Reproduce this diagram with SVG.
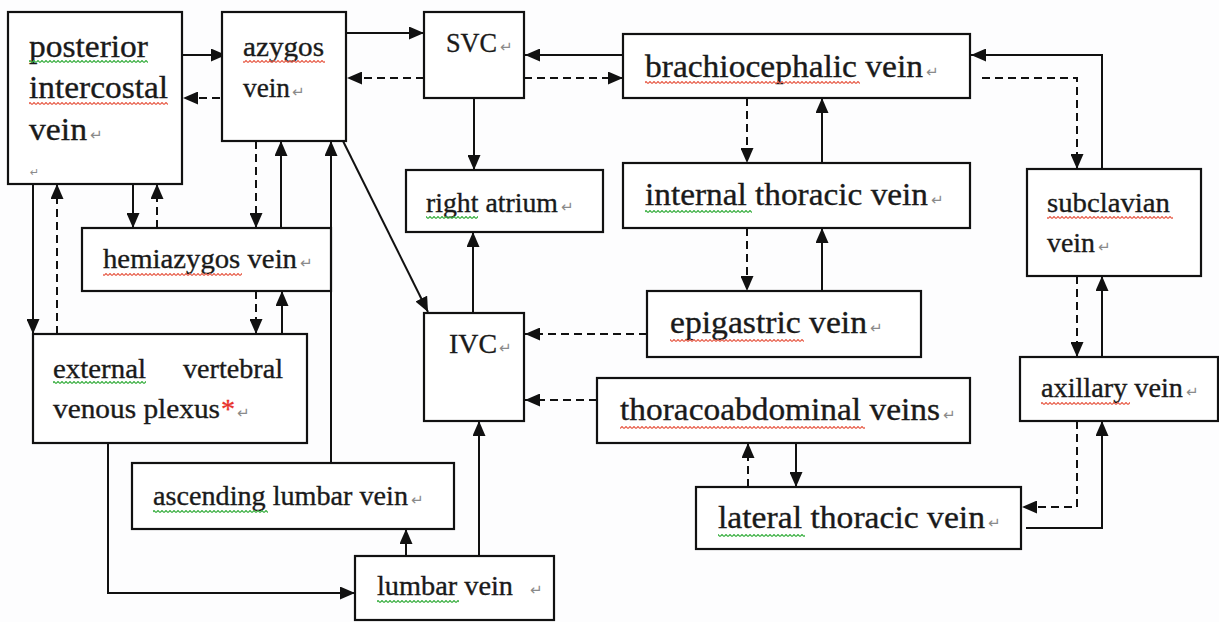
<svg xmlns="http://www.w3.org/2000/svg" width="1219" height="622" viewBox="0 0 1219 622">
<style>
.box{fill:#fff;stroke:#111;stroke-width:2.2}
.t{font-family:"Liberation Serif","Times New Roman",serif;fill:#1a1a1a;stroke:#1a1a1a;stroke-width:0.35}
.s{font-size:28px}
.b{font-size:32px}
.pm{font-family:"DejaVu Sans",sans-serif;font-size:15px;fill:#8a8a8a}
.c{fill:none;stroke:#111;stroke-width:2;marker-end:url(#ah)}
.d{stroke-dasharray:8 5}
.wr{fill:url(#wr)}
.wg{fill:url(#wg)}
</style>
<defs>
<marker id="ah" markerUnits="userSpaceOnUse" markerWidth="16" markerHeight="13" refX="15" refY="6.5" orient="auto"><path d="M0,0 L15,6.5 L0,13 z" fill="#111"/></marker>
<pattern id="wr" patternUnits="userSpaceOnUse" width="4" height="3"><polyline points="0,2.5 2,0.5 4,2.5" fill="none" stroke="#e8604c" stroke-width="1.2"/></pattern>
<pattern id="wg" patternUnits="userSpaceOnUse" width="4" height="3"><polyline points="0,2.5 2,0.5 4,2.5" fill="none" stroke="#3cb043" stroke-width="1.2"/></pattern>
</defs>
<rect x="0" y="0" width="1219" height="622" fill="#fdfdfe"/>

<g id="connectors">
<path class="c" d="M182,55 H226"/>
<path class="c d" d="M220,98 H183"/>
<path class="c" d="M346,33 H424"/>
<path class="c d" d="M424,78 H347"/>
<path class="c d" d="M524,78 H623"/>
<path class="c" d="M623,55 H525"/>
<path class="c" d="M474,98 V170"/>
<path class="c" d="M473,313 V232"/>
<path class="c" d="M343,141 L428,312"/>
<path class="c d" d="M747,98 V163"/>
<path class="c" d="M822,163 V98"/>
<path class="c d" d="M747,228 V291"/>
<path class="c" d="M822,291 V228"/>
<path class="c d" d="M647,334 H525"/>
<path class="c d" d="M597,400 H525"/>
<path class="c d" d="M748,487 V443"/>
<path class="c" d="M796,443 V487"/>
<path class="c" d="M1102,169 V55 H971"/>
<path class="c d" d="M982,78 H1077 V169"/>
<path class="c d" d="M1077,276 V357"/>
<path class="c" d="M1102,357 V276"/>
<path class="c d" d="M1077,421 V507 H1022"/>
<path class="c" d="M1026,528 H1102 V421"/>
<path class="c" d="M33,184 V334"/>
<path class="c d" d="M57,334 V184"/>
<path class="c" d="M133,184 V228"/>
<path class="c d" d="M157,228 V184"/>
<path class="c d" d="M256,141 V228"/>
<path class="c" d="M281,228 V141"/>
<path class="c d" d="M256,291 V334"/>
<path class="c" d="M282,334 V291"/>
<path class="c" d="M331,463 V141"/>
<path class="c" d="M108,443 V593 H355"/>
<path class="c" d="M406,556 V529"/>
<path class="c" d="M479,556 V421"/>
</g>

<g id="posterior-intercostal-vein">
<rect class="box" x="8" y="12" width="174" height="172"/>
<text class="t b" x="29" y="57" textLength="119" lengthAdjust="spacingAndGlyphs">posterior</text>
<text class="t b" x="29" y="98" textLength="139" lengthAdjust="spacingAndGlyphs">intercostal</text>
<text class="t b" x="29" y="140" textLength="58" lengthAdjust="spacingAndGlyphs">vein</text>
<text class="pm" x="90" y="140">↵</text>
<text class="pm" x="30" y="176" style="font-size:11px">↵</text>
<rect class="wg" x="29" y="60" width="119" height="3"/>
<rect class="wr" x="29" y="102" width="139" height="3"/>
</g>

<g id="azygos-vein">
<rect class="box" x="222" y="12" width="124" height="129"/>
<text class="t s" x="243" y="56" textLength="81" lengthAdjust="spacingAndGlyphs">azygos</text>
<text class="t s" x="243" y="97" textLength="47" lengthAdjust="spacingAndGlyphs">vein</text>
<text class="pm" x="292" y="97">↵</text>
<rect class="wr" x="243" y="60" width="82" height="3"/>
</g>

<g id="svc">
<rect class="box" x="424" y="12" width="100" height="86"/>
<text class="t s" x="446" y="52" textLength="51" lengthAdjust="spacingAndGlyphs">SVC</text>
<text class="pm" x="500" y="52">↵</text>
</g>

<g id="brachiocephalic-vein">
<rect class="box" x="623" y="34" width="347" height="64"/>
<text class="t b" x="645" y="77" textLength="278" lengthAdjust="spacingAndGlyphs">brachiocephalic vein</text>
<text class="pm" x="926" y="77">↵</text>
<rect class="wr" x="645" y="81" width="215" height="3"/>
</g>

<g id="right-atrium">
<rect class="box" x="406" y="170" width="197" height="62"/>
<text class="t s" x="426" y="212" textLength="132" lengthAdjust="spacingAndGlyphs">right atrium</text>
<text class="pm" x="561" y="212">↵</text>
<rect class="wg" x="426" y="216" width="52" height="3"/>
</g>

<g id="internal-thoracic-vein">
<rect class="box" x="623" y="163" width="347" height="65"/>
<text class="t b" x="645" y="205" textLength="283" lengthAdjust="spacingAndGlyphs">internal thoracic vein</text>
<text class="pm" x="931" y="205">↵</text>
<rect class="wg" x="645" y="210" width="107" height="3"/>
</g>

<g id="subclavian-vein">
<rect class="box" x="1027" y="169" width="174" height="107"/>
<text class="t s" x="1047" y="212" textLength="123" lengthAdjust="spacingAndGlyphs">subclavian</text>
<text class="t s" x="1047" y="252" textLength="48" lengthAdjust="spacingAndGlyphs">vein</text>
<text class="pm" x="1098" y="252">↵</text>
<rect class="wr" x="1047" y="216" width="126" height="3"/>
</g>

<g id="hemiazygos-vein">
<rect class="box" x="82" y="228" width="249" height="63"/>
<text class="t s" x="103" y="268" textLength="194" lengthAdjust="spacingAndGlyphs">hemiazygos vein</text>
<text class="pm" x="300" y="268">↵</text>
<rect class="wr" x="103" y="273" width="139" height="3"/>
</g>

<g id="external-vertebral-venous-plexus">
<rect class="box" x="33" y="334" width="274" height="109"/>
<text class="t s" x="53" y="378" textLength="93" lengthAdjust="spacingAndGlyphs">external</text>
<text class="t s" x="183" y="378" textLength="100" lengthAdjust="spacingAndGlyphs">vertebral</text>
<text class="t s" x="53" y="418" textLength="167" lengthAdjust="spacingAndGlyphs">venous plexus</text>
<text class="t s" x="221" y="418" style="fill:#e8302a;stroke:#e8302a">*</text>
<text class="pm" x="237" y="418">↵</text>
<rect class="wg" x="53" y="381" width="93" height="3"/>
</g>

<g id="ivc">
<rect class="box" x="424" y="313" width="100" height="108"/>
<text class="t s" x="449" y="353" textLength="48" lengthAdjust="spacingAndGlyphs">IVC</text>
<text class="pm" x="499" y="353">↵</text>
</g>

<g id="epigastric-vein">
<rect class="box" x="647" y="291" width="274" height="66"/>
<text class="t b" x="670" y="333" textLength="197" lengthAdjust="spacingAndGlyphs">epigastric vein</text>
<text class="pm" x="870" y="333">↵</text>
<rect class="wr" x="670" y="339" width="134" height="3"/>
</g>

<g id="thoracoabdominal-veins">
<rect class="box" x="597" y="378" width="373" height="65"/>
<text class="t b" x="620" y="420" textLength="320" lengthAdjust="spacingAndGlyphs">thoracoabdominal veins</text>
<text class="pm" x="943" y="420">↵</text>
<rect class="wr" x="620" y="426" width="245" height="3"/>
</g>

<g id="axillary-vein">
<rect class="box" x="1020" y="357" width="198" height="64"/>
<text class="t s" x="1041" y="397" textLength="142" lengthAdjust="spacingAndGlyphs">axillary vein</text>
<text class="pm" x="1186" y="397">↵</text>
<rect class="wr" x="1041" y="402" width="89" height="3"/>
</g>

<g id="ascending-lumbar-vein">
<rect class="box" x="132" y="463" width="322" height="66"/>
<text class="t s" x="153" y="505" textLength="255" lengthAdjust="spacingAndGlyphs">ascending lumbar vein</text>
<text class="pm" x="411" y="505">↵</text>
<rect class="wg" x="153" y="510" width="115" height="3"/>
</g>

<g id="lateral-thoracic-vein">
<rect class="box" x="696" y="487" width="325" height="62"/>
<text class="t b" x="718" y="528" textLength="267" lengthAdjust="spacingAndGlyphs">lateral thoracic vein</text>
<text class="pm" x="988" y="528">↵</text>
<rect class="wg" x="718" y="534" width="87" height="3"/>
</g>

<g id="lumbar-vein">
<rect class="box" x="355" y="556" width="199" height="64"/>
<text class="t s" x="377" y="595" textLength="136" lengthAdjust="spacingAndGlyphs">lumbar vein</text>
<text class="pm" x="530" y="595">↵</text>
<rect class="wg" x="377" y="600" width="82" height="3"/>
</g>
</svg>
